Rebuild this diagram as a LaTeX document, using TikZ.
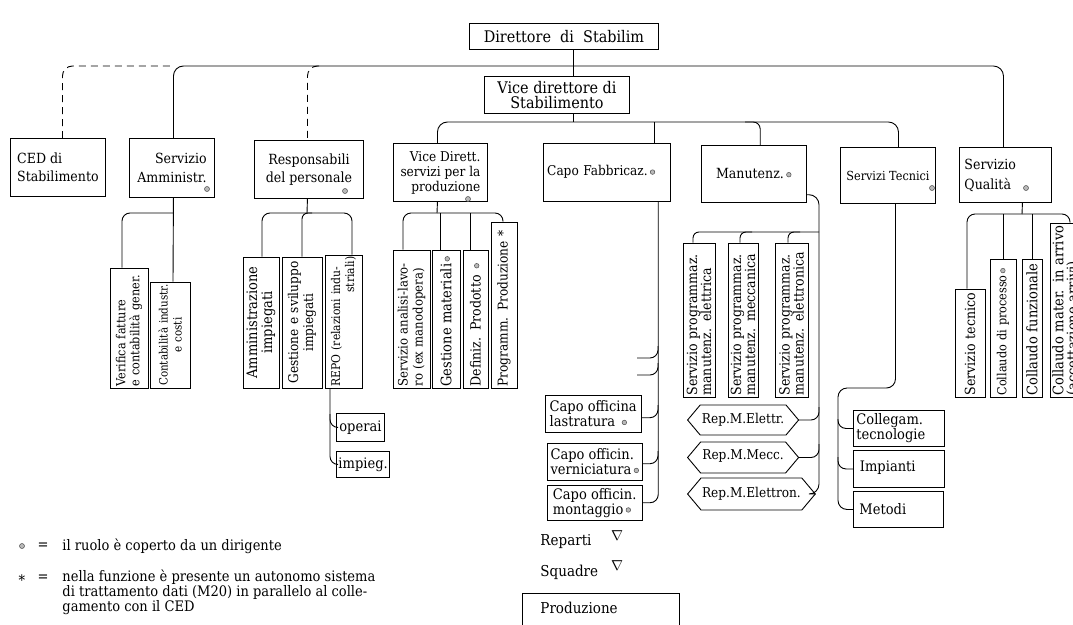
\documentclass[tikz,border=0pt]{standalone}
\usepackage{fontspec}
\setmainfont{DejaVu Serif}[FakeStretch=0.9]
\usetikzlibrary{shapes.symbols}
\newcommand\fs[2]{\fontsize{#1}{#2}\selectfont}
\newcommand\dirdot{\,\tikz[baseline=-0.55ex]\draw[fill=gray!55,draw=black!70,line width=0.5pt] (0,0) circle (2.3pt);}
\begin{document}
\begin{tikzpicture}[x=1pt,y=-1pt,line width=0.9pt,
  bx/.style={draw, inner sep=2pt, anchor=north west, align=center, font=\fs{14}{16}},
  rb/.style={draw, inner sep=1.5pt, rotate=90, align=left, font=\fs{14.5}{15}},
  hx/.style={draw, signal, signal to=west and east, signal pointer angle=100, inner sep=1pt, anchor=west, font=\fs{13.5}{15}},
  rc/.style={rounded corners=#1}, rc/.default=9,
  dg/.style={fill=gray!55, draw=black!70, line width=0.5pt},
  dsh/.style={dash pattern=on 7pt off 5pt},
  lb/.style={inner sep=0pt, anchor=west}]
\fill[white] (0,0) rectangle (1073,624);
\useasboundingbox (0,0) rectangle (1073,624);
\clip (0,0) rectangle (1073,624);

% ---- top level boxes
\node[bx, minimum width=189, minimum height=26, font=\fs{16}{18}] (dir) at (469,23) {Direttore\ \ di\ \ Stabilim};
\node[bx, minimum width=145, minimum height=37, font=\fs{16}{15}] (vice) at (484,76) {Vice direttore di\\Stabilimento};
\node[bx, minimum width=95, minimum height=58, align=left, font=\fs{14}{18}] (ced) at (10,138) {CED di\\Stabilimento};
\node[bx, minimum width=85, minimum height=59, align=right, font=\fs{14}{19}] (amm) at (129,138) {Servizio\\Amministr.};
\node[bx, minimum width=109, minimum height=58, font=\fs{14}{18}] (resp) at (254,140) {Responsabili\\del personale};
\node[bx, minimum width=94, minimum height=58, align=right, font=\fs{13.5}{15}] (vd) at (393,143) {Vice Dirett.\\servizi per la\\produzione};
\node[bx, minimum width=127, minimum height=58, text width=119, align=left, font=\fs{13.5}{16}] (cf) at (543,143) {Capo Fabbricaz.\dirdot};
\node[bx, minimum width=105, minimum height=57] (man) at (701,145) {Manutenz.\dirdot};
\node[bx, minimum width=95, minimum height=56, font=\fs{12.5}{16}] (st) at (840,147) {Servizi Tecnici};
\node[bx, minimum width=92, minimum height=55, text width=82, align=left, font=\fs{14}{20}] (sq) at (959,147) {Servizio\\Qualità};

% ---- rotated boxes
\node[rb, text width=117, minimum height=38, font=\fs{12.5}{14}] (verif) at (129,328) {Verifica fatture\\e contabilità gener.};
\node[rb, text width=103, minimum height=40, align=center, font=\fs{11.5}{14}] (contab) at (170,335) {Contabilità industr.\\e costi};
\node[rb, text width=128, minimum height=36, align=center] (ammin) at (261,322.5) {Amministrazione\\impiegati};
\node[rb, text width=128, minimum height=40, align=center, font=\fs{13.5}{15}] (gest) at (302,322.5) {Gestione e sviluppo\\impiegati};
\node[rb, text width=130, minimum height=37, font=\fs{12}{14}] (repo) at (343.5,321.5) {REPO (relazioni indu-\\\hspace*{\fill}striali)};
\node[rb, text width=135, minimum height=37, font=\fs{13}{15}] (anal) at (411.5,319) {Servizio analisi-lavo-\\ro (ex manodopera)};
\node[rb, text width=135, minimum height=28] (gmat) at (446,319) {Gestione materiali\dirdot};
\node[rb, text width=135, minimum height=25, font=\fs{14}{15}] (defin) at (475.5,319) {Definiz. Prodotto \dirdot};
\node[rb, text width=163, minimum height=26, font=\fs{13.5}{15}] (progr) at (504,305) {\mbox{Programm. Produzione *}};
\node[rb, text width=151, minimum height=32, font=\fs{14}{14}] (sp1) at (699,320) {Servizio programmaz.\\manutenz. elettrica};
\node[rb, text width=151, minimum height=30, font=\fs{14}{14}] (sp2) at (743,320) {Servizio programmaz.\\manutenz. meccanica};
\node[rb, text width=151, minimum height=33, font=\fs{14}{14}] (sp3) at (791.5,320) {Servizio programmaz.\\manutenz. elettronica};
\node[rb, text width=105, minimum height=30, font=\fs{14}{15}] (stec) at (970,343) {Servizio tecnico};
\node[rb, text width=135, minimum height=26, font=\fs{12.5}{15}] (cproc) at (1003,328) {\mbox{Collaudo di processo}\dirdot};
\node[rb, text width=135, minimum height=20] (cfunz) at (1032,328) {Collaudo funzionale};
\node[rb, text width=171, minimum height=32, font=\fs{14.5}{14}] (cmat) at (1066,310) {Collaudo mater. in arrivo\\(accettazione arrivi)};

% ---- lower boxes
\node[bx, minimum width=96, minimum height=37, align=left, font=\fs{14.5}{15}] (lastr) at (545,395) {Capo officina\\lastratura \dirdot};
\node[bx, minimum width=95, minimum height=37, align=left, font=\fs{14.5}{15}] (verni) at (547,443) {Capo officin.\\verniciatura\dirdot};
\node[bx, minimum width=95, minimum height=35, align=left, font=\fs{14.5}{15}] (monta) at (547,485) {Capo officin.\\montaggio\dirdot};
\node[bx, minimum width=91, minimum height=36, text width=85, align=left, font=\fs{14.5}{15}] (coll) at (853,410) {Collegam.\\tecnologie};
\node[bx, minimum width=91, minimum height=37, text width=78, align=left, font=\fs{14.5}{15}] (imp) at (853,450) {\raisebox{5pt}{Impianti}};
\node[bx, minimum width=90, minimum height=36, text width=78, align=left, font=\fs{14.5}{15}] (met) at (853,491) {Metodi};
\node[bx, minimum width=48, minimum height=28, font=\fs{14.5}{15}] (op) at (336,413) {operai};
\node[bx, minimum width=52, minimum height=26, font=\fs{14.5}{15}] (imq) at (336,451) {impieg.};
\node[hx, minimum width=111, minimum height=30] (he1) at (687,420) {Rep.M.Elettr.};
\node[hx, minimum width=111, minimum height=31] (he2) at (687,457.5) {\raisebox{6pt}{Rep.M.Mecc.}};
\node[hx, minimum width=123, minimum height=32] (he3) at (687,494) {Rep.M.Elettron.};
\node[draw, anchor=north west, minimum width=157, minimum height=50, inner sep=0pt] (prod) at (522,593) {};
\node[lb, font=\fs{15}{15}] (prodt) at (540,608) {Produzione};
\node[lb, font=\fs{15}{15}] (rep) at (540,542) {Reparti};
\node[inner sep=0pt, font=\fs{15}{15}] (tr1) at (617,536) {$\nabla$};
\node[lb, font=\fs{15}{15}] (squ) at (540,572) {Squadre};
\node[inner sep=0pt, font=\fs{15}{15}] (tr2) at (617,566) {$\nabla$};

% ---- dots on boxes
\draw[dg] (207,189) circle (2.5);
\draw[dg] (345,191) circle (2.5);
\draw[dg] (468,199) circle (2.5);
\draw[dg] (932,188) circle (2.5);
\draw[dg] (1026,188) circle (2.5);

% ---- legend
\draw[dg] (22,546) circle (2.5);
\node[inner sep=0pt, font=\fs{14.5}{14}] (eq1) at (43,546) {=};
\node[lb, font=\fs{14.5}{14}] (lg1) at (62,546) {il ruolo è coperto da un dirigente};
\node[inner sep=0pt, font=\fs{14.5}{14}] (ast) at (22,580) {*};
\node[inner sep=0pt, font=\fs{14.5}{14}] (eq2) at (43,578) {=};
\node[inner sep=0pt, anchor=north west, align=left, font=\fs{14.5}{14}] (lg2) at (62,569) {nella funzione è presente un autonomo sistema\\di trattamento dati (M20) in parallelo al colle-\\gamento con il CED};

% ---- connectors: top levels
\coordinate (j1) at (573,66);
\coordinate (j2) at (573,122);
\draw (dir.south -| j1) -- (vice.north -| j1);
\draw (vice.south -| j2) -- (j2);
\draw[rc=10] ([xshift=1.5]amm.north) |- (j1) -| ([xshift=-2]sq.north);
\draw[dsh, rc=10] ([xshift=4.5]ced.north) |- ([xshift=1.5]amm.north |- j1);
\coordinate (rd) at (319,66);
\draw[dsh, rc=10] (rd) -| ([xshift=-1.5]resp.north);
\draw[rc=10] ([xshift=-3]vd.north) |- (j2) -| ([xshift=10.5]st.north);
\draw ([xshift=47.5]cf.north) -- ([xshift=47.5]cf.north |- j2);
\coordinate (mj) at (745,122);
\draw[rc=7] (mj) -| ([xshift=6.5]man.north);

% ---- Servizio Amministr.
\coordinate (a1) at (173,213);
\draw ([xshift=1.5]amm.south) -- ([xshift=3]contab.east);
\draw[rc=8] (a1) -| ([xshift=-7]verif.east);

% ---- Responsabili
\coordinate (r1) at (307,213);
\coordinate (r2) at (312,213);
\draw ([xshift=-1.5]resp.south) -- (r1);
\draw[rc=8] (r1) -| ([xshift=1]ammin.east);
\draw[rc=8] (r1) -| ([xshift=8.5]repo.east);
\draw[rc=6] (r2) -| (gest.east);
\coordinate (rq1) at (330,414);
\draw[rc=8] ([xshift=-13.5]repo.west) |- (imq.west);
\draw[rc=8] (rq1) |- (op.west);

% ---- Vice Dirett.
\coordinate (v1) at (437,213);
\draw ([xshift=-3]vd.south) -- (v1);
\draw[rc=8] (v1) -| ([xshift=-8.5]anal.east);
\draw[rc=8] (v1) -| ([xshift=-1]progr.east);
\draw ([xshift=-6]gmat.east) -- ([xshift=-6]gmat.east |- v1);
\draw ([xshift=-5.5]defin.east) -- ([xshift=-5.5]defin.east |- v1);

% ---- Capo Fabbricaz.
\coordinate (cs0) at (637,358);
\coordinate (cs0u) at (658,346);
\coordinate (cs1) at (637,375);
\coordinate (cs1u) at (658,363);
\coordinate (cl1) at (658,405);
\coordinate (cl2) at (658,451);
\draw[rc=8] ([xshift=51.5]cf.south) |- (monta.east);
\draw[rc=8] (cs0) -| (cs0u);
\draw[rc=8] (cs1) -| (cs1u);
\draw[rc=8] ([yshift=-4]lastr.east) -| (cl1);
\draw[rc=8] ([yshift=-2]verni.east) -| (cl2);

% ---- Manutenz.
\coordinate (mt) at (819,232);
\coordinate (ms2) at (752,232);
\coordinate (ms3) at (800,232);
\coordinate (mh1) at (819,407);
\coordinate (mh2) at (819,444);
\draw[rc=10] ([yshift=-21]man.east) -| (mt) |- (he3.east);
\draw[rc=8] (he1.east) -| (mh1);
\draw[rc=8] (he2.east) -| (mh2);
\draw[rc=6] (mt) -| ([xshift=-6]sp1.east);
\draw[rc=6] (ms2) -| ([xshift=-3]sp2.east);
\draw[rc=6] (ms3) -| ([xshift=-3.5]sp3.east);

% ---- Servizi Tecnici
\coordinate (tk) at (838,388);
\coordinate (tk1) at (838,419);
\coordinate (tk2) at (838,457);
\draw[rc=9] ([xshift=7.5]st.south) |- (tk) |- (met.west);
\draw[rc=8] (tk1) |- (coll.west);
\draw[rc=8] (tk2) |- (imp.west);

% ---- Servizio Qualita
\coordinate (q1) at (1022,214);
\draw ([xshift=17]sq.south) -- (q1);
\draw[rc=8] (q1) -| ([xshift=-3]stec.east);
\draw[rc=8] (q1) -| ([xshift=4]cmat.east);
\draw (cproc.east) -- (cproc.east |- q1);
\draw (cfunz.east) -- (cfunz.east |- q1);
\end{tikzpicture}
\end{document}
